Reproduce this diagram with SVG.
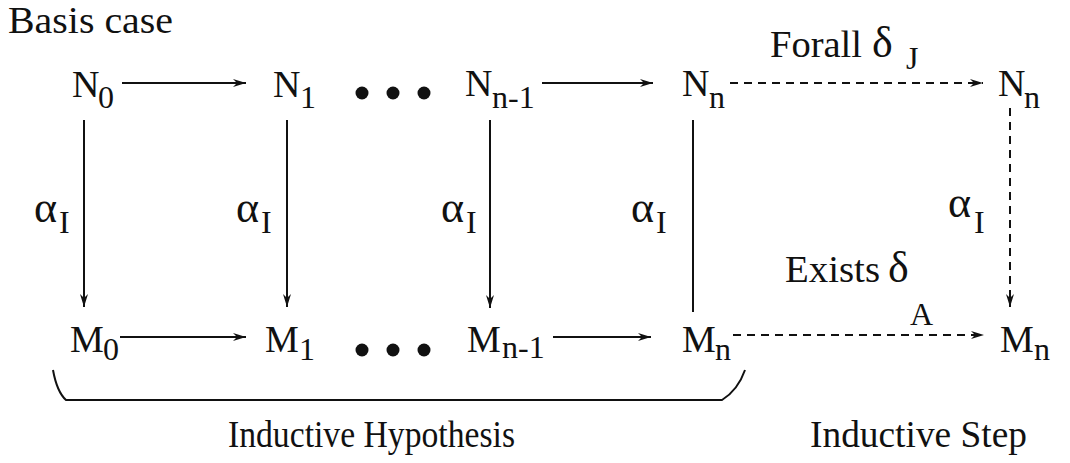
<svg xmlns="http://www.w3.org/2000/svg" width="1070" height="463" viewBox="0 0 1070 463">
<style>
.t{font-family:"Liberation Serif";fill:#111}
.big{font-size:38px}
.sub{font-size:32px}
.gr{font-size:44px}
</style>
<defs>
<marker id="ah" markerUnits="userSpaceOnUse" markerWidth="14" markerHeight="10" refX="13" refY="5" orient="auto">
<path d="M0,1 L13,5 L0,9 L4,5 Z" fill="#111"/>
</marker>
</defs>
<text class="t big" x="8" y="33" textLength="165" lengthAdjust="spacingAndGlyphs">Basis case</text>
<g id="N0"><text class="t big" x="72" y="97">N</text><text class="t sub" x="98" y="108">0</text></g>
<g id="N1"><text class="t big" x="273" y="97">N</text><text class="t sub" x="300" y="108">1</text></g>
<g id="dotsTop" fill="#111"><circle cx="362" cy="93" r="6.5"/><circle cx="393" cy="93" r="6.5"/><circle cx="424" cy="93" r="6.5"/></g>
<g id="Nn1"><text class="t big" x="465" y="96">N</text><text class="t sub" x="492" y="108">n-1</text></g>
<g id="Nn"><text class="t big" x="682" y="96">N</text><text class="t sub" x="709" y="108">n</text></g>
<g id="Nn2"><text class="t big" x="998" y="96">N</text><text class="t sub" x="1024" y="108">n</text></g>
<g id="M0"><text class="t big" x="70" y="352">M</text><text class="t sub" x="103" y="360">0</text></g>
<g id="M1"><text class="t big" x="265" y="352">M</text><text class="t sub" x="299" y="360">1</text></g>
<g id="dotsBot" fill="#111"><circle cx="362" cy="350" r="6.5"/><circle cx="393" cy="350" r="6.5"/><circle cx="424" cy="350" r="6.5"/></g>
<g id="Mn1"><text class="t big" x="467" y="352">M</text><text class="t sub" x="502" y="358">n-1</text></g>
<g id="Mn"><text class="t big" x="682" y="352">M</text><text class="t sub" x="715" y="360">n</text></g>
<g id="Mn2"><text class="t big" x="1000" y="352">M</text><text class="t sub" x="1034" y="360">n</text></g>
<g id="labels">
<text class="t gr" x="34" y="222">α</text><text class="t sub" x="59" y="233">I</text>
<text class="t gr" x="236" y="222">α</text><text class="t sub" x="261" y="233">I</text>
<text class="t gr" x="441" y="222">α</text><text class="t sub" x="466" y="233">I</text>
<text class="t gr" x="631" y="222">α</text><text class="t sub" x="656" y="233">I</text>
<text class="t gr" x="948" y="217">α</text><text class="t sub" x="974" y="233">I</text>
<text class="t big" x="770" y="57" textLength="92" lengthAdjust="spacingAndGlyphs">Forall</text>
<text class="t gr" x="872" y="57">δ</text><text class="t sub" x="906" y="69">J</text>
<text class="t big" x="785" y="282" textLength="95" lengthAdjust="spacingAndGlyphs">Exists</text>
<text class="t gr" x="888" y="282">δ</text><text class="t sub" x="910" y="325">A</text>
<text class="t big" x="228" y="447" textLength="287" lengthAdjust="spacingAndGlyphs">Inductive Hypothesis</text>
<text class="t big" x="810" y="447" textLength="217" lengthAdjust="spacingAndGlyphs">Inductive Step</text>
</g>
<g id="connectors" stroke="#111" stroke-width="2" fill="none">
<line x1="122" y1="83" x2="246" y2="83" marker-end="url(#ah)"/>
<line x1="542" y1="83" x2="653" y2="83" marker-end="url(#ah)"/>
<line stroke-dasharray="8 6" x1="730" y1="83" x2="983" y2="83" marker-end="url(#ah)"/>
<line x1="120" y1="337" x2="246" y2="337" marker-end="url(#ah)"/>
<line x1="553" y1="337" x2="651" y2="337" marker-end="url(#ah)"/>
<line stroke-dasharray="8 6" x1="733" y1="335" x2="984" y2="335" marker-end="url(#ah)"/>
<line x1="84" y1="120" x2="84" y2="307" marker-end="url(#ah)"/>
<line x1="287" y1="120" x2="287" y2="307" marker-end="url(#ah)"/>
<line x1="490" y1="120" x2="490" y2="308" marker-end="url(#ah)"/>
<line x1="693" y1="120" x2="693" y2="312"/>
<line stroke-dasharray="8 6" x1="1010" y1="108" x2="1010" y2="307" marker-end="url(#ah)"/>
<path d="M53,370 Q57,392 66,400 L722,400 Q738,390 745,370"/>
</g>
</svg>
